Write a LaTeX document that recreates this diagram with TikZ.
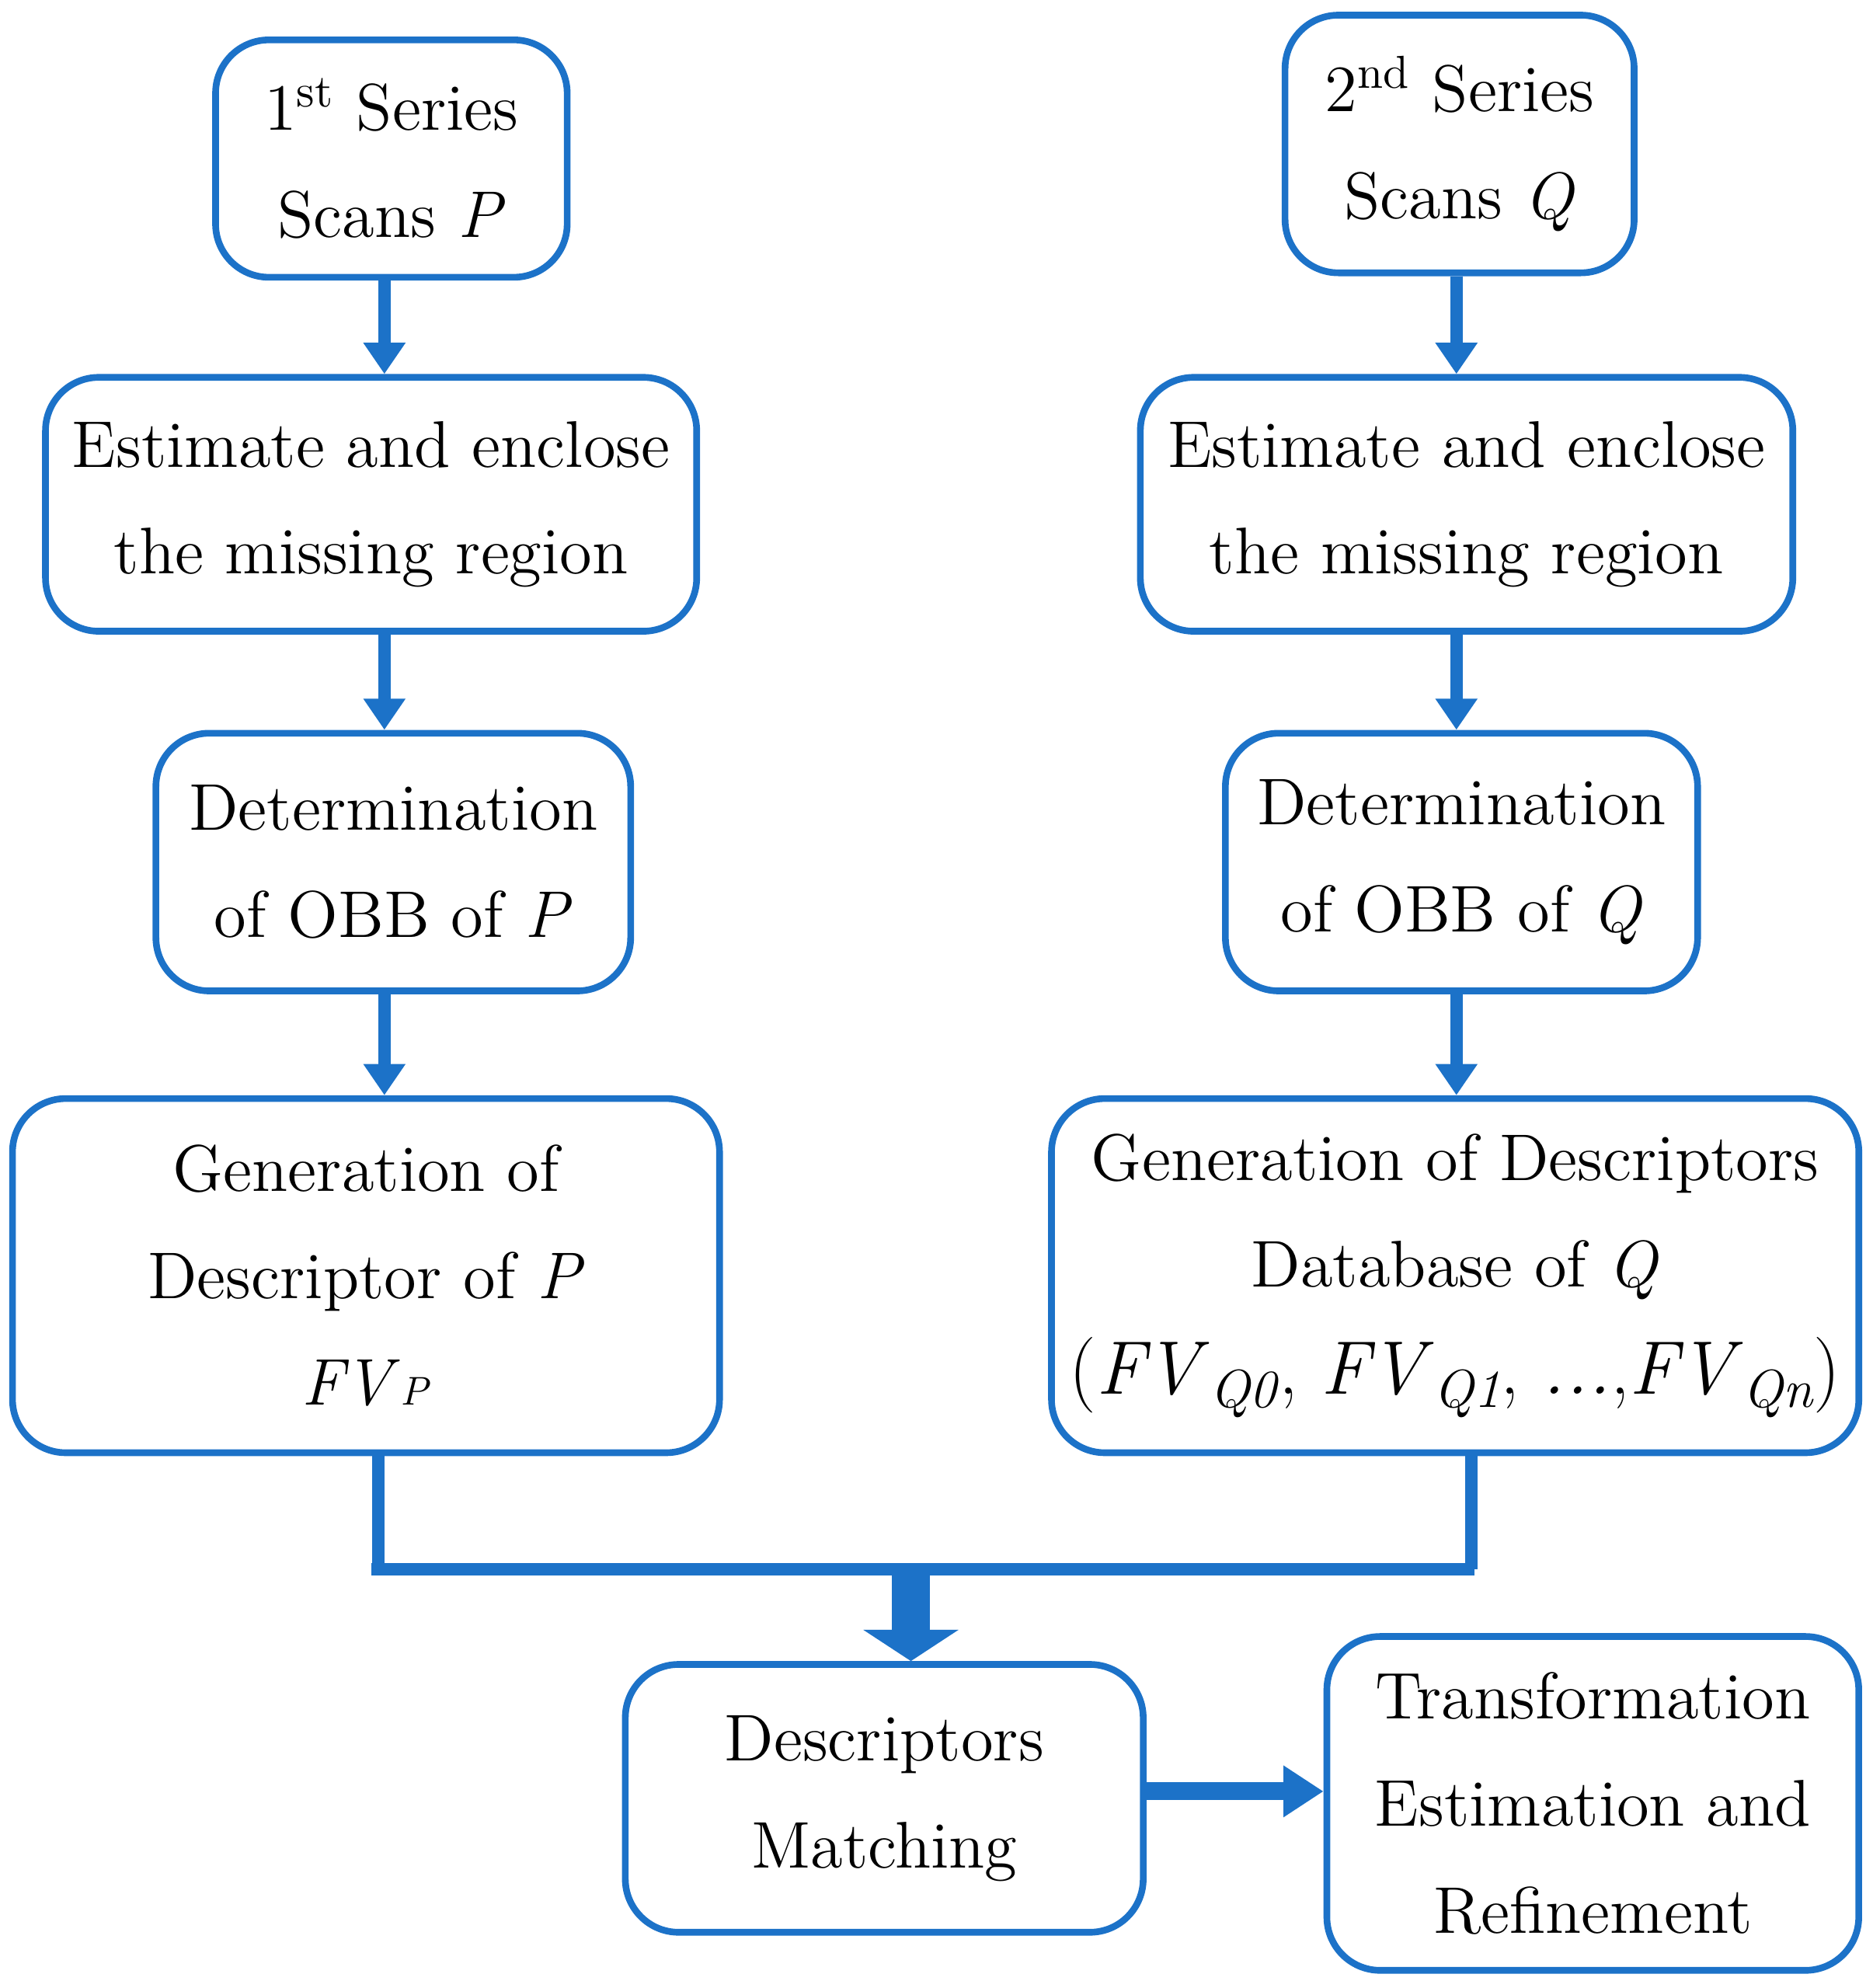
\documentclass[tikz,border=0pt]{standalone}
\usetikzlibrary{arrows.meta}
\definecolor{bl}{RGB}{28,114,200}
\newcommand{\sbx}[1]{\raisebox{-0.4ex}{\fontsize{12}{12}\selectfont\textit{#1}}}
\begin{document}
\begin{tikzpicture}[x=0.01cm,y=-0.01cm,
 box/.style={draw=bl,line width=1.5pt,rounded corners=0.42cm,align=center,font=\fontsize{14.8}{24}\selectfont,inner sep=0pt},
 arr/.style={draw=bl,line width=2.8pt,-{Triangle[width=9pt,length=7pt]}},
 ln/.style={draw=bl,line width=2.8pt}]
\useasboundingbox (0,0) rectangle (1476,1567);
\node[box,minimum width=2.77cm,minimum height=1.87cm] (A1) at (308.5,125) {1\textsuperscript{st} Series\\Scans \textit{P}};
\node[box,minimum width=5.13cm,minimum height=2.0cm] (A2) at (292.5,397.5) {Estimate and enclose\\the missing region};
\node[box,minimum width=3.74cm,minimum height=2.03cm] (A3) at (310,679.5) {Determination\\of OBB of \textit{P}};
\node[box,minimum width=5.57cm,minimum height=2.79cm] (A4) at (288.5,1005.5) {Generation of\\Descriptor of \textit{P}\\\textit{FV}{\fontsize{9}{10}\selectfont\textit{P}}};
\node[box,minimum width=2.75cm,minimum height=2.03cm] (B1) at (1150.5,113.5) {2\textsuperscript{nd} Series\\Scans \textit{Q}};
\node[box,minimum width=5.14cm,minimum height=2.0cm] (B2) at (1156,397.5) {Estimate and enclose\\the missing region};
\node[box,minimum width=3.72cm,minimum height=2.03cm] (B3) at (1152,679.5) {Determination\\of OBB of \textit{Q}};
\node[box,minimum width=6.36cm,minimum height=2.79cm] (B4) at (1147,1005.5) {Generation of Descriptors\\Database of \textit{Q}\\{\fontsize{17}{20}\selectfont(\textit{FV}\sbx{Q0}, \textit{FV}\sbx{Q1}, \textit{...},\textit{FV}\sbx{Qn})}};
\node[box,minimum width=4.08cm,minimum height=2.11cm] (C) at (697,1417.5) {Descriptors\\Matching};
\node[box,minimum width=4.19cm,minimum height=2.63cm] (D) at (1255.5,1421.5) {Transformation\\Estimation and\\Refinement};
\foreach \a/\b in {A1/A2,A2/A3,A3/A4}{\draw[arr] (303,0 |- \a.south) -- (303,0 |- \b.north);}
\foreach \a/\b in {B1/B2,B2/B3,B3/B4}{\draw[arr] (1148,0 |- \a.south) -- (1148,0 |- \b.north);}
\coordinate (m) at (718,1237);
\draw[ln] (298,0 |- A4.south) -- (298,1237);
\draw[ln] (1160,0 |- B4.south) -- (1160,1237);
\draw[ln] (293,1237) -- (1162,1237);
\draw[draw=bl,line width=8.5pt,-{Triangle[width=21pt,length=7pt]}] (m) -- (m |- C.north);
\draw[draw=bl,line width=4pt,-{Triangle[width=11pt,length=9pt]}] (C.east |- 0,1412) -- (D.west |- 0,1412);
\end{tikzpicture}
\end{document}
